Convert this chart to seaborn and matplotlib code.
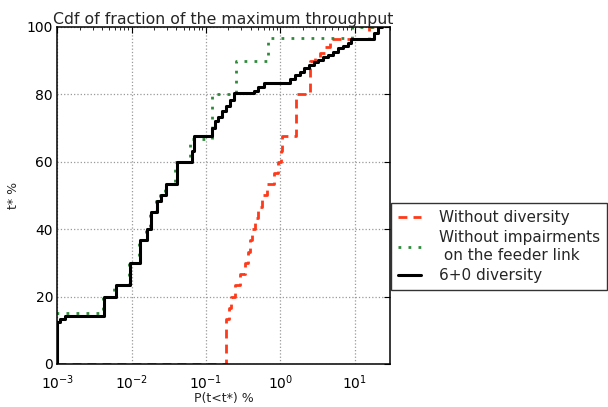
import matplotlib
matplotlib.use("Agg")
import matplotlib.pyplot as plt
import seaborn as sns
import pandas as pd
import numpy as np

# ---- data ----
black_x = [0.001, 0.001, 0.00109, 0.00127, 0.00424, 0.00615, 0.00949, 0.0129, 0.0159, 0.0182,
           0.0219, 0.0248, 0.0289, 0.0406, 0.0646, 0.0688, 0.120, 0.132, 0.145, 0.164,
           0.185, 0.210, 0.237, 0.440, 0.499, 0.600, 1.34, 1.57, 1.83, 2.07,
           2.42, 2.82, 3.19, 3.73, 4.35, 5.08, 5.93, 6.92, 8.08, 8.86,
           18.1, 20.4, 23.1]
black_y = [0, 12.5, 13.3, 14.3, 20, 23.3, 30, 36.7, 40, 45,
           48.3, 50, 53.3, 60, 63.3, 67.7, 70, 72, 73.3, 75,
           76.7, 78.3, 80.3, 81, 82.3, 83.5, 84.7, 85.7, 86.7, 87.7,
           88.7, 89.7, 90.3, 91, 91.7, 92.7, 93.7, 94.3, 95.3, 96.3,
           98.3, 100, 100]

green_x = [0.001, 0.001, 0.00411, 0.00578, 0.0092, 0.01254, 0.01557, 0.01762, 0.0212, 0.024,
           0.028, 0.0382, 0.0608, 0.119, 0.258, 0.679, 9.14, 23.1]
green_y = [0, 15, 20, 23.3, 30, 36.7, 40, 45, 48.3, 50,
           53.3, 60, 66.7, 80, 90, 96.7, 100, 100]

red_x = [0.001, 0.189, 0.203, 0.216, 0.2446, 0.2855, 0.3333, 0.366, 0.389, 0.414,
         0.454, 0.4985, 0.564, 0.658, 0.818, 0.926, 1.016, 1.064, 1.616, 2.53,
         2.91, 3.40, 3.96, 4.63, 15.5, 23.1]
red_y = [0, 13.3, 16.7, 20, 23.3, 26.7, 30, 33.3, 36.7, 40,
         43.3, 46.7, 50, 53.3, 56.7, 60, 63.3, 67.7, 80, 90,
         91, 92.3, 94, 96.5, 100, 100]

labels = ["Without diversity", "Without impairments\n on the feeder link", "6+0 diversity"]
y_ticks = [0, 20, 40, 60, 80, 100]

df = pd.concat([
    pd.DataFrame({"x": red_x, "y": red_y, "series": labels[0]}),
    pd.DataFrame({"x": green_x, "y": green_y, "series": labels[1]}),
    pd.DataFrame({"x": black_x, "y": black_y, "series": labels[2]}),
], ignore_index=True)

sns.set_style("white")
plt.rcParams["font.family"] = ["DejaVu Sans"]

fig = plt.figure(figsize=(6.08, 4.07), dpi=100)
ax = fig.add_axes([0.0942, 0.1057, 0.5472, 0.828])

styles = {
    labels[0]: dict(color="#ff3a1a", linestyle=(0, (3.2, 2.2)), linewidth=2.0),
    labels[1]: dict(color="#2e8b3a", linestyle=(0, (1, 2.6)), linewidth=2.0),
    labels[2]: dict(color="black", linestyle="-", linewidth=2.2),
}
for lab in labels:
    sub = df[df["series"] == lab]
    sns.lineplot(data=sub, x="x", y="y", ax=ax, estimator=None, errorbar=None,
                 sort=False, drawstyle="steps-post", label=lab, **styles[lab])

ax.set_xscale("log")
ax.set_xlim(1e-3, 30)
ax.set_ylim(0, 100)
ax.set_yticks(y_ticks)
ax.grid(True, which="major", linestyle=":", color="#999999", linewidth=0.9)
for s in ax.spines.values():
    s.set_color("black")
    s.set_linewidth(1.1)
ax.tick_params(axis="both", which="both", direction="in", top=True, right=True,
               labelsize=10, colors="black")
ax.tick_params(axis="both", which="major", length=4, pad=3)
ax.tick_params(axis="x", which="both", pad=6.5)
ax.tick_params(axis="x", which="minor", length=2)
ax.set_title("Cdf of fraction of the maximum throughput", fontsize=11.3, pad=2)
ax.set_xlabel("P(t<t*) %", fontsize=9, labelpad=0)
ax.set_ylabel("t* %", fontsize=9, labelpad=5)

leg = ax.legend(loc="upper left", bbox_to_anchor=(0.643, 0.501),
                bbox_transform=fig.transFigure, fontsize=11, frameon=True,
                fancybox=False, borderpad=0.45, handlelength=1.5,
                labelspacing=0.35, handletextpad=1.2, borderaxespad=0)
leg.get_frame().set_edgecolor("black")
leg.get_frame().set_linewidth(1.0)

fig.savefig("out.png", dpi=100)
